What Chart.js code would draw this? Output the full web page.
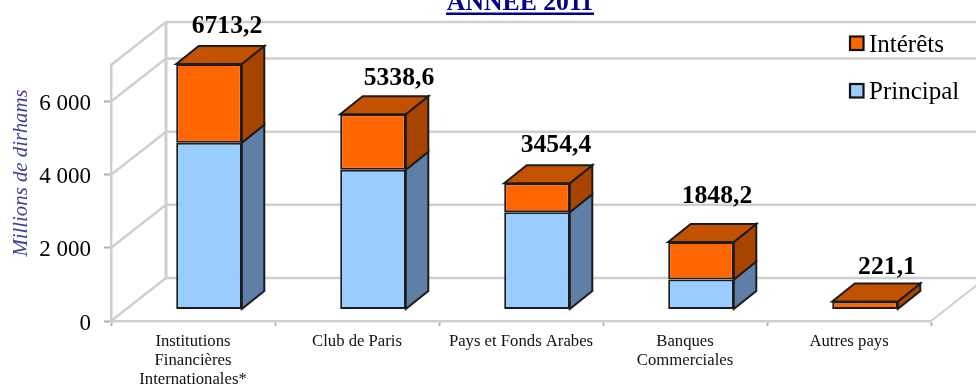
<!DOCTYPE html>
<html>
<head>
<meta charset="utf-8">
<style>
  html, body { margin: 0; padding: 0; background: #fff; overflow: hidden; }
  canvas { display: block; filter: blur(0.4px); }
</style>
<script src="https://cdn.jsdelivr.net/npm/chart.js@4"></script>
</head>
<body>
<canvas id="chart" width="976" height="385"></canvas>
<script>
const categories = [
    ['Institutions', 'Financières', 'Internationales*'],
    'Club de Paris',
    'Pays et Fonds Arabes',
    ['Banques', 'Commerciales'],
    'Autres pays'
];
const principal = [4562, 3822, 2658, 822, 0];
const interets = [2151.2, 1516.6, 796.4, 1026.2, 221.1];
const totalLabels = ['6713,2', '5338,6', '3454,4', '1848,2', '221,1'];
const yTickValues = [0, 2000, 4000, 6000, 7000];
const yTickLabels = ['0', '2 000', '4 000', '6 000', ''];

const serif = '"Liberation Serif", "Times New Roman", serif';
const sideColors = ['#5f7fa6', '#a64400'];
const topColor = '#c25200';
const edge = '#1c1c1c';
const wallColor = '#cfcfcf';

// depth of the fake 3D box
const wallDx = 55, wallDy = -43;
const barDx = 16, barDy = -11.5;
const depthDx = 22.5, depthDy = -18;
// label nudges relative to the bar top
const labelNudge = [[18, -37.5], [26, -35.5], [19, -37.5], [16, -45.5], [22, -34.5]];

function poly(ctx, pts, fill) {
    ctx.beginPath();
    pts.forEach(function (p, i) { i ? ctx.lineTo(p[0], p[1]) : ctx.moveTo(p[0], p[1]); });
    ctx.closePath();
    ctx.fillStyle = fill;
    ctx.fill();
    ctx.lineWidth = 2;
    ctx.strokeStyle = edge;
    ctx.stroke();
}

const walls3d = {
    id: 'walls3d',
    afterLayout(chart) {
        // digits sit a bit low against the tick in the source
        chart.scales.y.getLabelItems().forEach(function (item) { item.options.translation[1] += 2.5; });
    },
    beforeDatasetsDraw(chart) {
        const ctx = chart.ctx, y = chart.scales.y, area = chart.chartArea;
        ctx.save();
        ctx.strokeStyle = wallColor;
        ctx.lineWidth = 2.5;
        y.ticks.forEach(function (t) {
            const py = y.getPixelForValue(t.value);
            ctx.beginPath();
            ctx.moveTo(area.left, py);
            ctx.lineTo(area.left + wallDx, py + wallDy);
            ctx.lineTo(chart.width + 2, py + wallDy);
            ctx.stroke();
        });
        ctx.lineWidth = 3;
        ctx.beginPath();
        ctx.moveTo(area.left + wallDx, area.top + wallDy);
        ctx.lineTo(area.left + wallDx, area.bottom + wallDy);
        ctx.stroke();
        ctx.lineWidth = 2;
        ctx.beginPath();
        ctx.moveTo(area.right, area.bottom);
        ctx.lineTo(area.right + wallDx, area.bottom + wallDy);
        ctx.stroke();
        ctx.restore();

        // boxes are pushed back onto the floor, side faces go under the fronts
        ctx.save();
        ctx.translate(barDx, barDy);
        chart.data.datasets.forEach(function (ds, d) {
            chart.getDatasetMeta(d).data.forEach(function (bar) {
                if (Math.abs(bar.base - bar.y) < 0.5) return;
                const r = bar.x + bar.width / 2;
                poly(ctx, [[r, bar.base], [r + depthDx, bar.base + depthDy], [r + depthDx, bar.y + depthDy], [r, bar.y]], sideColors[d]);
            });
        });
        const tops = chart.getDatasetMeta(1).data;
        tops.forEach(function (bar) {
            const l = bar.x - bar.width / 2, r = bar.x + bar.width / 2;
            poly(ctx, [[l, bar.y], [r, bar.y], [r + depthDx, bar.y + depthDy], [l + depthDx, bar.y + depthDy]], topColor);
        });
    },
    afterDatasetsDraw(chart) {
        const ctx = chart.ctx;
        ctx.restore();

        ctx.save();
        ctx.textAlign = 'center';
        ctx.textBaseline = 'middle';
        ctx.fillStyle = '#000';
        ctx.font = 'bold 25.7px ' + serif;
        chart.getDatasetMeta(1).data.forEach(function (bar, i) {
            ctx.fillText(totalLabels[i], bar.x + barDx + labelNudge[i][0], bar.y + barDy + labelNudge[i][1]);
        });

        // title, cut by the top of the picture like in the source
        ctx.font = 'bold 25.7px ' + serif;
        ctx.fillStyle = '#00008b';
        ctx.textBaseline = 'alphabetic';
        ctx.fillText('ANNÉE 2011', 520, 10);
        ctx.fillRect(446, 12.5, 148, 2.5);

        // axis title
        ctx.save();
        ctx.translate(22, 173);
        ctx.rotate(-Math.PI / 2);
        ctx.font = 'italic 20.8px ' + serif;
        ctx.fillStyle = '#3f3f9a';
        ctx.textBaseline = 'middle';
        ctx.fillText('Millions de dirhams', 0, 0);
        ctx.restore();

        // legend, reversed order
        ctx.textAlign = 'left';
        ctx.textBaseline = 'middle';
        ctx.font = '25px ' + serif;
        [1, 0].forEach(function (d, i) {
            const ds = chart.data.datasets[d];
            const top = 36.5 + i * 47.5;
            ctx.fillStyle = ds.backgroundColor;
            ctx.strokeStyle = '#111';
            ctx.lineWidth = 2.2;
            ctx.fillRect(850, top, 13.5, 13.5);
            ctx.strokeRect(850, top, 13.5, 13.5);
            ctx.fillStyle = '#000';
            ctx.fillText(ds.label, 869, top + 8.5);
        });
        ctx.restore();
    }
};

new Chart(document.getElementById('chart'), {
    type: 'bar',
    plugins: [walls3d],
    data: {
        labels: categories,
        datasets: [
            { label: 'Principal', data: principal, backgroundColor: '#99ccff', borderColor: edge, borderWidth: 2, borderSkipped: false, clip: false },
            { label: 'Intérêts', data: interets, backgroundColor: '#ff6600', borderColor: edge, borderWidth: 2, borderSkipped: false, clip: false }
        ]
    },
    options: {
        responsive: false,
        animation: false,
        layout: { padding: { top: 65, right: 45, left: 0, bottom: 0 } },
        datasets: { bar: { barPercentage: 1, categoryPercentage: 0.4 } },
        plugins: {
            legend: { display: false },
            title: { display: false },
            tooltip: { enabled: false }
        },
        scales: {
            x: {
                stacked: true,
                afterFit: function (s) { s.height = 64; },
                border: { color: wallColor, width: 2.5 },
                grid: { drawOnChartArea: false, tickLength: 5, tickColor: '#b0b0b0', tickWidth: 2 },
                ticks: {
                    autoSkip: false,
                    maxRotation: 0,
                    padding: 6,
                    color: '#111',
                    font: { family: serif, size: 16.7, lineHeight: 1.14 }
                }
            },
            y: {
                stacked: true,
                min: 0,
                max: 7000,
                afterFit: function (s) { s.width = 111; },
                // stepSize alone gets rescaled to 1750 because 7000 is not a multiple
                afterBuildTicks: function (s) { s.ticks = yTickValues.map(function (v) { return { value: v }; }); },
                border: { color: wallColor, width: 2.5 },
                grid: {
                    drawOnChartArea: false,
                    tickLength: 7,
                    tickWidth: 2,
                    tickColor: function (c) { return c.tick && c.tick.value === 7000 ? 'rgba(0,0,0,0)' : '#b0b0b0'; }
                },
                ticks: {
                    autoSkip: false,
                    padding: 13,
                    color: '#000',
                    font: { family: serif, size: 23 },
                    callback: function (v) { return yTickLabels[yTickValues.indexOf(v)]; }
                }
            }
        }
    }
});
</script>
</body>
</html>
